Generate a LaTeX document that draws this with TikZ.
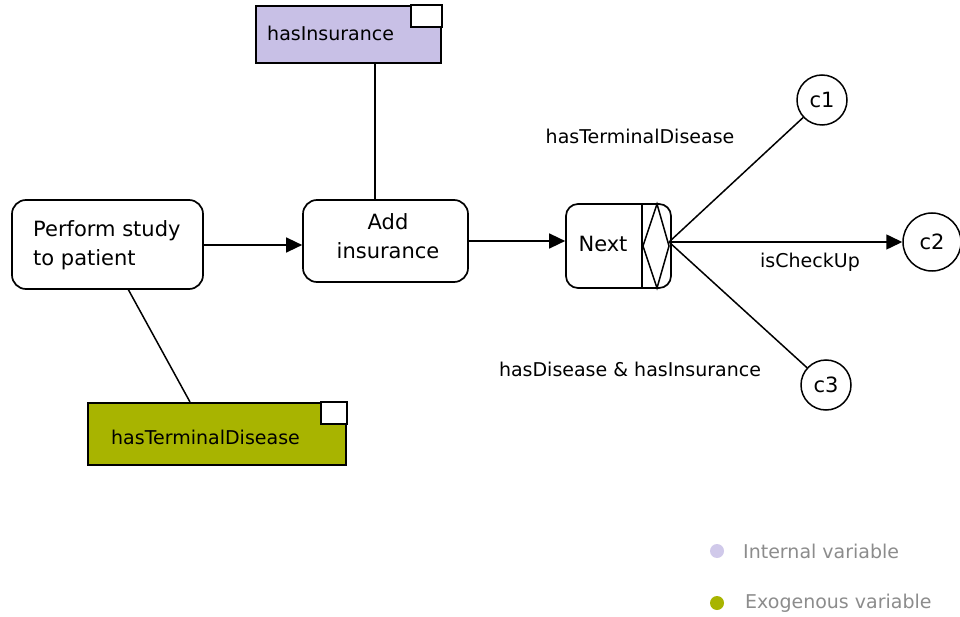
\documentclass[tikz,border=0pt]{standalone}
\usepackage{fontspec}
\setmainfont{DejaVu Sans}
\usetikzlibrary{arrows.meta}
\definecolor{internal}{HTML}{C8C0E6}
\definecolor{exogen}{HTML}{A8B400}
\definecolor{legendtext}{HTML}{8C8C8C}
\begin{document}
\begin{tikzpicture}[x=1pt,y=-1pt,
  every node/.style={inner sep=0pt},
  task/.style={draw=black,line width=1.7pt,rounded corners=14pt,fill=white},
  varbox/.style={draw=black,line width=1.7pt,anchor=north west},
  corner/.style={draw=black,line width=1.7pt,fill=white},
  link/.style={line width=1.5pt},
  flow/.style={line width=1.5pt,-{Triangle[length=16pt,width=15pt]}},
  lbl/.style={font=\fontsize{19}{22}\selectfont},
  big/.style={font=\fontsize{21}{29}\selectfont},
  endpt/.style={draw=black,line width=1.5pt,circle,fill=white},
  legenddot/.style={circle,minimum size=14pt}]
\useasboundingbox (0,0) rectangle (960,617);

% variables
\node[varbox,fill=internal,minimum width=185pt,minimum height=57pt] (ins) at (255,5) {};
\node[lbl,anchor=west] (insT) at (267,33) {hasInsurance};
\draw[corner] (ins.north east) rectangle ++(-31,22);

\node[varbox,fill=exogen,minimum width=258pt,minimum height=62pt] (term) at (87,402) {};
\node[lbl,anchor=west] (termT) at (111,437) {hasTerminalDisease};
\draw[corner] (term.north east) rectangle ++(-26,22);

% tasks
\node[task,minimum width=191pt,minimum height=89pt] (perf) at (107.5,244.5) {};
\node[big,anchor=north west,align=left] (perfT) at (33,220) {Perform study\\to patient};

\node[task,minimum width=165pt,minimum height=82pt] (add) at (385.5,241) {};
\node[big,align=center] (addT) at (388,236) {Add\\insurance};

% gateway
\node[task,rounded corners=12pt,minimum width=105pt,minimum height=84pt] (next) at (618.5,246) {};
\node[big] (nextT) at (603,244) {Next};
\draw[line width=1.5pt] (642,204) -- (642,288);
\draw[line width=1.5pt] (657,204) -- (643,246) -- (657,288) -- (669,246) -- cycle;
\coordinate (gw) at (669,242);

% end points
\node[endpt,minimum size=50pt,big] (c1) at (822,100) {c1};
\node[endpt,minimum size=58pt,big] (c2) at (932,242) {c2};
\node[endpt,minimum size=50pt,big] (c3) at (826,385) {c3};

% connectors
\draw[link] (ins.south -| 375,0) -- (add.north -| 375,0);
\draw[link] (128,289) -- (term.north -| 190,0);
\draw[flow] (perf.east |- 0,245) -- (add.west |- 0,245);
\draw[flow] (468,241) -- (next.west |- 0,241);
\draw[link] (gw) -- (c1);
\draw[flow] (gw) -- (c2.west |- gw);
\draw[link] (gw) -- (c3);

% condition labels
\node[lbl] (l1) at (640,136) {hasTerminalDisease};
\node[lbl] (l2) at (810,262) {isCheckUp};
\node[lbl] (l3) at (630,369) {hasDisease \& hasInsurance};

% legend
\node[legenddot,fill=internal!85] (d1) at (717,551) {};
\node[lbl,text=legendtext,anchor=west] (t1) at (743,551) {Internal variable};
\node[legenddot,fill=exogen] (d2) at (717,603) {};
\node[lbl,text=legendtext,anchor=west] (t2) at (745,603) {Exogenous variable};
\end{tikzpicture}
\end{document}
